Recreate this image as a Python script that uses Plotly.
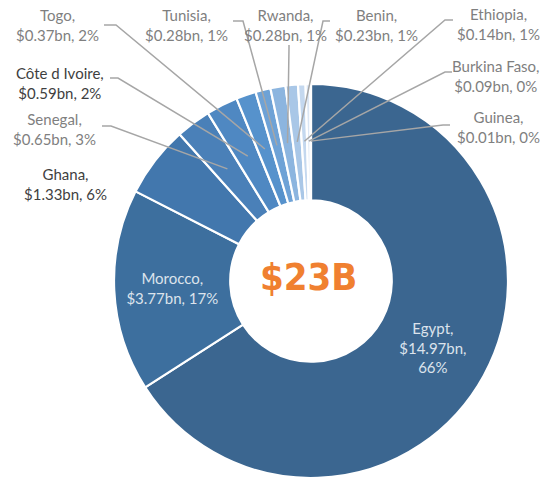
import math
import plotly.graph_objects as go

countries = ["Egypt", "Morocco", "Ghana", "Senegal", "Côte d Ivoire", "Togo",
             "Tunisia", "Rwanda", "Benin", "Ethiopia", "Burkina Faso", "Guinea"]
values = [14.97, 3.77, 1.33, 0.65, 0.59, 0.37, 0.28, 0.28, 0.23, 0.14, 0.09, 0.01]
pcts = [66, 17, 6, 3, 2, 2, 1, 1, 1, 1, 0, 0]
colors = ["#3b6690", "#3d6f9e", "#4277ad", "#4a80b8", "#4f88c2", "#5692cc",
          "#6ea2d6", "#8cb5df", "#a9c7e7", "#c4d8ef", "#dbe6f4", "#eef3fa"]
total_label = "$23B"

W, H = 543, 482
cx, cy, R = 311, 281, 197  # pie centre / radius in pixels

def px(x, y):
    return x / W, 1 - y / H

labels = [f"{c},<br>${v:.2f}bn, {p}%" for c, v, p in zip(countries, values, pcts)]
inside = ["inside", "inside"] + ["none"] * 10
egypt_lbl = f"{countries[0]},<br>${values[0]:.2f}bn,<br>{pcts[0]}%"
texts = [egypt_lbl, labels[1]] + [""] * 10

x0, y1 = px(cx - R, cy - R)
x1, y0 = px(cx + R, cy + R)
fig = go.Figure(go.Pie(
    labels=countries, values=values, sort=False, direction="clockwise",
    hole=0.41, marker=dict(colors=colors, line=dict(color="white", width=2.2)),
    text=texts, textinfo="text", textposition=inside,
    insidetextorientation="horizontal",
    textfont=dict(family="Lato", size=15, color="#dce3ec"),
    domain=dict(x=[x0, x1], y=[y0, y1]),
    showlegend=False, hoverinfo="label+value",
))

# outside label placement: (text x, text y, anchor), line start, elbow -- pixels
outside = {
    "Ghana": ((65, 184, "center"), None, None),
    "Senegal": ((54, 129, "center"), (102, 126), (111, 126)),
    "Côte d Ivoire": ((60, 83, "center"), (110, 78), (118, 78)),
    "Togo": ((57, 25, "center"), (104, 25), (116, 25)),
    "Tunisia": ((186, 25, "center"), (233, 21), (243, 21)),
    "Rwanda": ((285, 25, "center"), (289, 45), (289, 48)),
    "Benin": ((376, 25, "center"), (330, 21), (323, 21)),
    "Ethiopia": ((542, 24, "right"), (453, 20), (445, 20)),
    "Burkina Faso": ((542, 76, "right"), (452, 72), (445, 72)),
    "Guinea": ((542, 127, "right"), (450, 125), (443, 125)),
}
dark = {"Ghana", "Côte d Ivoire"}

total = sum(values)
cum = 0
shapes = []
annotations = []
for c, v, lbl in zip(countries, values, labels):
    mid = (cum + v / 2) / total * 2 * math.pi
    cum += v
    if c not in outside:
        continue
    (tx, ty, anchor), start, elbow = outside[c]
    x, y = px(tx, ty)
    annotations.append(dict(
        x=x, y=y, xref="paper", yref="paper", text=lbl, showarrow=False,
        align="center", xanchor=anchor, yanchor="middle",
        font=dict(family="Lato", size=15, color="#3f3f3f" if c in dark else "#7f7f7f"),
    ))
    if start:
        ex = cx + 0.71 * R * math.sin(mid)
        ey = cy - 0.71 * R * math.cos(mid)
        pts = [px(*start), px(*elbow), px(ex, ey)]
        path = "M " + " L ".join(f"{a},{b}" for a, b in pts)
        shapes.append(dict(type="path", path=path, xref="paper", yref="paper",
                           line=dict(color="#a6a6a6", width=1.5)))

x, y = px(308, 277)
annotations.append(dict(x=x, y=y, xref="paper", yref="paper", text=f"<b>{total_label}</b>",
                        showarrow=False,
                        font=dict(family="DejaVu Sans Condensed, Roboto, sans-serif",
                                  size=38, color="#f08030")))

fig.update_layout(width=W, height=H, margin=dict(l=0, r=0, t=0, b=0),
                  paper_bgcolor="white", plot_bgcolor="white",
                  shapes=shapes, annotations=annotations)
# drop the default 8px body margin so the figure fills the window
fig.write_html("out.html", config={"displayModeBar": False},
               post_script="document.body.style.margin='0';")
